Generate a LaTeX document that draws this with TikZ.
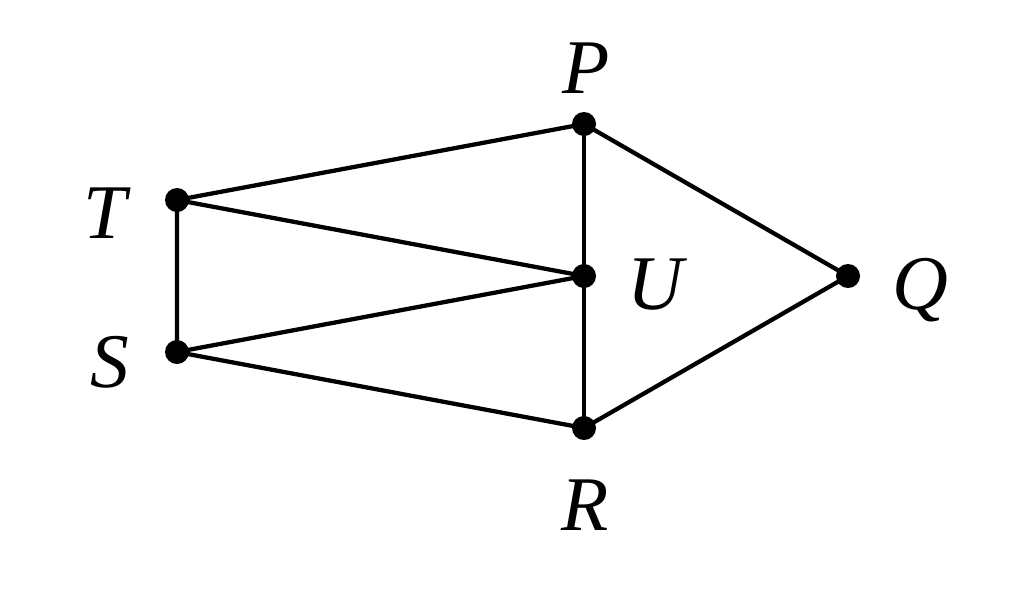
\documentclass[tikz,border=0pt]{standalone}
\usepackage{fontspec}
\setmainfont{Liberation Serif}
\begin{document}
\begin{tikzpicture}[x=0.75pt,y=-0.75pt,
  vtx/.style={circle,fill=black,inner sep=0pt,minimum size=18pt},
  lbl/.style={font=\fontsize{58}{58}\selectfont\itshape,inner sep=0pt},
  edge/.style={line width=3.2pt}]
\useasboundingbox (0,0) rectangle (1024,590);
\node[vtx] (P) at (584,124) {};
\node[vtx] (T) at (177,200) {};
\node[vtx] (U) at (584,276) {};
\node[vtx] (Q) at (848,276) {};
\node[vtx] (S) at (177,352) {};
\node[vtx] (R) at (584,428) {};
\node[lbl] (lP) at (586,68) {P};
\node[lbl] (lT) at (105,213) {T};
\node[lbl] (lU) at (655,285) {U};
\node[lbl] (lQ) at (920,290) {Q};
\node[lbl] (lS) at (110,362) {S};
\node[lbl] (lR) at (585,505) {R};
\draw[edge] (T.center) -- (P.center) -- (Q.center) -- (R.center) -- (S.center) -- (T.center) -- (U.center) -- (S.center);
\draw[edge] (P.center) -- (U.center) -- (R.center);
\end{tikzpicture}
\end{document}
